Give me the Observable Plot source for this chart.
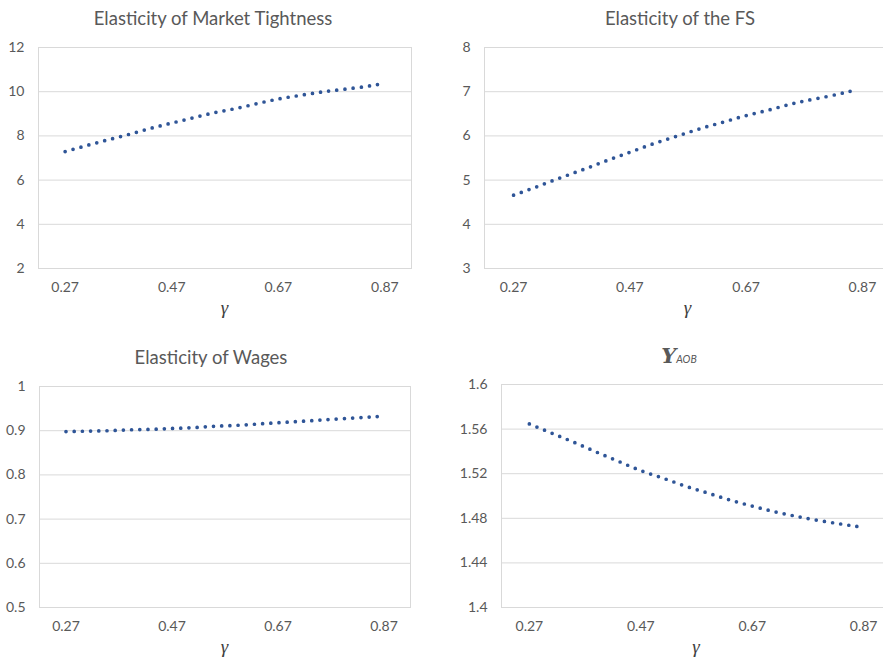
<!DOCTYPE html>
<html><head><meta charset="utf-8">
<script src="https://cdn.jsdelivr.net/npm/d3@7"></script>
<script src="https://cdn.jsdelivr.net/npm/@observablehq/plot@0.6"></script>
<style>
html,body{margin:0;padding:0;background:#fff;overflow:hidden;}
#chart{position:relative;width:883px;height:657px;overflow:hidden;font-family:Lato,"Open Sans",sans-serif;}
.panel{position:absolute;}
.panel svg{max-width:none !important;display:block;}
.title{position:absolute;transform:translateX(-50%);white-space:nowrap;color:#595959;font-size:18.5px;line-height:18px;font-family:Lato,sans-serif;}
.glab{position:absolute;transform:translate(-50%,-50%);font-family:"Liberation Serif",serif;font-style:italic;font-size:19px;line-height:12px;color:#404040;}
</style></head><body><div id="chart"></div><script>
// gamma grid
const gamma = [0.27,0.31,0.35,0.39,0.43,0.47,0.51,0.55,0.59,0.63,0.67,0.71,0.75,0.79,0.83,0.858];
const tightness = [7.29,7.56,7.82,8.07,8.34,8.58,8.82,9.05,9.24,9.46,9.67,9.83,9.98,10.10,10.22,10.33];
const fsElast = [4.66,4.85,5.05,5.24,5.44,5.63,5.82,5.99,6.16,6.31,6.46,6.59,6.73,6.84,6.95,7.04];
const wages = [0.898,0.899,0.900,0.902,0.903,0.905,0.907,0.910,0.912,0.915,0.918,0.921,0.924,0.927,0.930,0.932];
const upsAOB = [1.5646,1.5564,1.5482,1.5395,1.5311,1.5228,1.5160,1.5089,1.5027,1.4964,1.4910,1.4859,1.4817,1.4780,1.4748,1.4727];

const xTicks = [0.27,0.47,0.67,0.87];
const tightTicks = [2,4,6,8,10,12];
const fsTicks = [3,4,5,6,7,8];
const wageTicks = [0.5,0.6,0.7,0.8,0.9,1];
const upsTicks = [1.4,1.44,1.48,1.52,1.56,1.6];

const titles = ["Elasticity of Market Tightness","Elasticity of the FS","Elasticity of Wages"];

const panels = [
  {values:tightness, ticks:tightTicks, left:0, top:0, w:441, h:330, ml:38, mr:30, mt:47, mb:62},
  {values:fsElast, ticks:fsTicks, left:440, top:0, w:451, h:330, ml:44, mr:0, mt:47, mb:62},
  {values:wages, ticks:wageTicks, left:0, top:330, w:440, h:327, ml:39, mr:30, mt:56, mb:50},
  {values:upsAOB, ticks:upsTicks, left:440, top:330, w:451, h:327, ml:61, mr:0, mt:54, mb:50}
];

const root = document.getElementById("chart");

function makePanel(p){
  const data = gamma.map((g,i)=>({g, v:p.values[i]}));
  const yDomain = [p.ticks[0], p.ticks[p.ticks.length-1]];
  const svg = Plot.plot({
    width:p.w, height:p.h,
    marginLeft:p.ml, marginRight:p.mr, marginTop:p.mt, marginBottom:p.mb,
    style:{fontFamily:"Lato, sans-serif", fontSize:"14px", color:"#595959", background:"transparent", overflow:"visible", maxWidth:"none"},
    x:{domain:[0.22,0.92], ticks:xTicks, tickFormat:d=>d.toFixed(2), tickSize:0, tickPadding:14, label:null},
    y:{domain:yDomain, ticks:p.ticks, tickFormat:d=>String(d), tickSize:0, tickPadding:14, label:null},
    marks:[
      Plot.gridY(p.ticks,{stroke:"#d9d9d9", strokeOpacity:1}),
      Plot.frame({stroke:"#d9d9d9"}),
      Plot.line(data,{x:"g", y:"v", stroke:"#2F5597", strokeWidth:3.7, strokeDasharray:"0,8.2", strokeLinecap:"round", curve:"natural"})
    ]
  });
  svg.style.maxWidth = "none";
  svg.setAttribute("width", p.w);
  svg.setAttribute("height", p.h);
  const wrap = document.createElement("div");
  wrap.className = "panel";
  wrap.style.left = p.left+"px";
  wrap.style.top = p.top+"px";
  wrap.style.width = p.w+"px";
  wrap.style.height = p.h+"px";
  wrap.appendChild(svg);
  root.appendChild(wrap);
  // gamma axis title centered under plot area
  const gl = document.createElement("div");
  gl.className = "glab";
  gl.textContent = "γ";
  gl.style.left = (p.left + p.ml + (p.w - p.ml - p.mr)/2) + "px";
  gl.style.top = (p.top + p.h - p.mb + 40) + "px";
  root.appendChild(gl);
}
panels.forEach(makePanel);

function addTitle(html, cx, top){
  const t = document.createElement("div");
  t.className = "title";
  t.innerHTML = html;
  t.style.left = cx+"px";
  t.style.top = top+"px";
  root.appendChild(t);
}
addTitle(titles[0], 213, 9);
addTitle(titles[1], 680, 9);
addTitle(titles[2], 211, 348);
addTitle('<span style="font-family:\'DejaVu Serif\',serif;font-style:italic;font-weight:bold;font-size:21px;">Υ</span><span style="font-family:Lato,sans-serif;font-style:italic;font-size:10.5px;">AOB</span>', 679, 347);
</script></body></html>
